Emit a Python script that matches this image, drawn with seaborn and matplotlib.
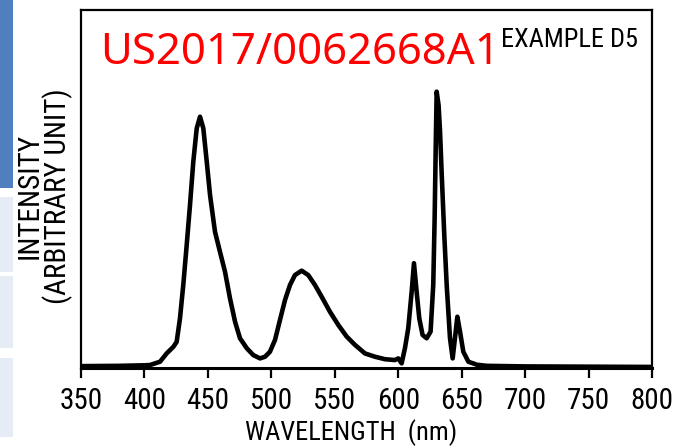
import os
import matplotlib
matplotlib.use("Agg")
import matplotlib.pyplot as plt
import matplotlib.font_manager as fm
from matplotlib.font_manager import FontProperties
import seaborn as sns
import pandas as pd

# ---- data (intensity normalised to the main red peak) ----
wavelength_nm = [350, 380, 400, 404.4, 412.3, 417.5, 422.8, 425.4, 428, 430.6, 433.3, 435.9,
                 438.5, 441.2, 443.8, 446.4, 449.1, 451.7, 455.6, 459.5, 463.5, 467.4, 471.4,
                 475.3, 480.6, 485.8, 491.1, 495, 498.9, 502.9, 506.8, 510.8, 514.7, 518.6,
                 523.9, 529.1, 534.4, 539.6, 546.2, 552.8, 559.4, 565.9, 573.8, 581.7, 589.6,
                 597.4, 600, 602.7, 605.3, 607.9, 610.6, 612.4, 614.5, 616.6, 619.2, 622.4,
                 625.5, 627.6, 628.7, 629.7, 630.3, 631.8, 632.9, 634.2, 636.3, 638.2, 640.8,
                 642.9, 644.7, 646.6, 648.7, 651.3, 655.3, 662, 670, 700, 750, 800]
intensity = [0.005, 0.006, 0.008, 0.009, 0.021, 0.051, 0.075, 0.093, 0.178, 0.299, 0.444,
             0.589, 0.746, 0.867, 0.909, 0.867, 0.746, 0.625, 0.492, 0.420, 0.347, 0.251,
             0.166, 0.106, 0.070, 0.045, 0.033, 0.039, 0.057, 0.100, 0.172, 0.245, 0.299,
             0.335, 0.351, 0.335, 0.299, 0.257, 0.202, 0.154, 0.112, 0.082, 0.051, 0.039,
             0.030, 0.027, 0.033, 0.015, 0.070, 0.142, 0.275, 0.378, 0.275, 0.178, 0.118,
             0.106, 0.130, 0.299, 0.541, 0.842, 1.000, 0.951, 0.861, 0.709, 0.480, 0.299,
             0.106, 0.033, 0.106, 0.184, 0.130, 0.057, 0.021, 0.010, 0.006, 0.004, 0.003,
             0.002]
x_ticks = [350, 400, 450, 500, 550, 600, 650, 700, 750, 800]
x_label = "WAVELENGTH  (nm)"
y_label = "INTENSITY\n(ARBITRARY UNIT)"
panel_title = "EXAMPLE D5"
stamp = "US2017/0062668A1"

df = pd.DataFrame({"wavelength": wavelength_nm, "intensity": intensity})

sns.set_style("ticks")
plt.rcParams["font.family"] = ["DejaVu Sans"]
plt.rcParams["text.color"] = "black"
plt.rcParams["xtick.color"] = "black"
plt.rcParams["axes.edgecolor"] = "black"


def narrow_font(size):
    names = {f.name for f in fm.fontManager.ttflist}
    for fam in ["Liberation Sans Narrow", "Arial Narrow", "Roboto Condensed",
                "Open Sans Condensed", "Noto Sans Condensed", "DejaVu Sans Condensed"]:
        if fam in names:
            return FontProperties(family=fam, size=size)
    bad = ("bold", "italic", "oblique", "light", "semi", "extra", "mono", "serif",
           "thin", "black", "medium")
    for f in fm.fontManager.ttflist:
        fn = os.path.basename(f.fname).lower()
        if ("condensed" in fn or "narrow" in fn) and not any(b in fn for b in bad):
            return FontProperties(fname=f.fname, size=size)
    for f in fm.fontManager.ttflist:
        if f.stretch in ("condensed", "semi-condensed") and f.weight in (400, "normal") \
                and f.style == "normal":
            return FontProperties(fname=f.fname, size=size)
    return FontProperties(family="DejaVu Sans", size=size)


W, H = 677, 448
fig = plt.figure(figsize=(W / 100, H / 100), dpi=100)
fig.patch.set_facecolor("white")

# left side bar artefacts of the screenshot
sb = fig.add_axes([0, 0, 1, 1], zorder=-5)
sb.set_xlim(0, W); sb.set_ylim(H, 0); sb.axis("off")
sb.add_patch(plt.Rectangle((0, 0), 13, 188, color="#4f7fbf", lw=0))
for y0, y1 in [(197, 272), (276, 348), (358, 437)]:
    sb.add_patch(plt.Rectangle((0, y0), 13, y1 - y0, color="#e6ecf5", lw=0))

left, right, top, bottom = 81, 652, 10, 367.5
ax = fig.add_axes([left / W, 1 - bottom / H, (right - left) / W, (bottom - top) / H])

sns.lineplot(data=df, x="wavelength", y="intensity", color="black", lw=3.3, ax=ax)

ax.set_xlim(350, 800)
ax.set_ylim(0, 1.296)
ax.set_xticks(x_ticks)
ax.set_xticklabels([str(t) for t in x_ticks], fontproperties=narrow_font(21))
ax.set_yticks([])
ax.tick_params(axis="x", direction="out", length=7, width=1.6, pad=7, colors="black")
for s in ax.spines.values():
    s.set_visible(True)
    s.set_color("black")
    s.set_linewidth(1.6)
ax.spines["bottom"].set_linewidth(2.2)
ax.set_xlabel("")
ax.set_ylabel("")

fig.text(351 / W, 1 - 446 / H, x_label, ha="center", va="bottom",
         fontproperties=narrow_font(19))
fig.text(44 / W, 1 - 196 / H, y_label, ha="center", va="center",
         rotation=90, fontproperties=narrow_font(21), linespacing=0.95)

fig.text(501 / W, 1 - 40 / H, panel_title, ha="left", va="center",
         fontproperties=narrow_font(19))
fig.text(100 / W, 1 - 53 / H, stamp, ha="left", va="center",
         fontsize=31.5, color="#ff0000", family=["Noto Sans", "DejaVu Sans"])

fig.savefig("out.png", dpi=100)
